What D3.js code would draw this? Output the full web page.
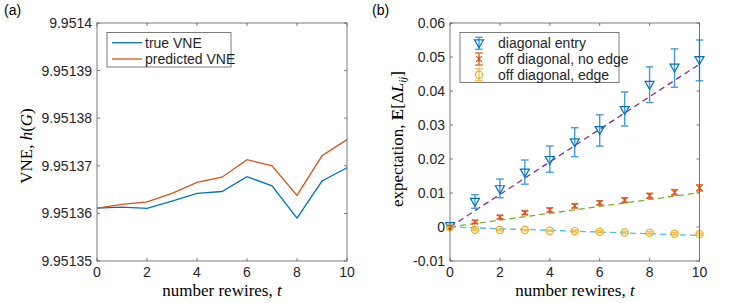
<!DOCTYPE html>
<html>
<head>
<meta charset="utf-8">
<script src="https://cdn.jsdelivr.net/npm/d3@7"></script>
<style>
  body { margin: 0; background: #fff; }
  svg text { font-family: "Liberation Sans", Arial, sans-serif; }
  .serif { font-family: "Liberation Serif", "DejaVu Serif", serif; }
</style>
</head>
<body>
<div id="chart"></div>
<script>
// ---- data ----
const steps = [0, 1, 2, 3, 4, 5, 6, 7, 8, 9, 10];

// panel (a): offsets above 9.95136, in units of 1e-5
const vneBase = 9.95136;
const trueVNE = [0.11, 0.13, 0.105, 0.26, 0.42, 0.46, 0.77, 0.58, -0.10, 0.68, 0.96];
const predVNE = [0.11, 0.19, 0.24, 0.42, 0.65, 0.76, 1.13, 1.00, 0.38, 1.21, 1.55];
const aTicks = [9.95135, 9.95136, 9.95137, 9.95138, 9.95139, 9.9514];

// panel (b)
const diagMean = [0.0003, 0.0074, 0.0111, 0.0160, 0.0197, 0.0249, 0.0285, 0.0344, 0.0418, 0.0469, 0.0491];
const diagLow  = [0.0002, 0.0055, 0.0086, 0.0126, 0.0161, 0.0207, 0.0238, 0.0297, 0.0366, 0.0411, 0.0430];
const diagHigh = [0.0004, 0.0095, 0.0141, 0.0197, 0.0238, 0.0292, 0.0330, 0.0397, 0.0471, 0.0524, 0.0550];
const noEdgeMean = [0, 0.0015, 0.0029, 0.0042, 0.0050, 0.0062, 0.0071, 0.0079, 0.0092, 0.0102, 0.0115];
const noEdgeErr  = [0, 0.0004, 0.0005, 0.0005, 0.0006, 0.0006, 0.0006, 0.0007, 0.0007, 0.0008, 0.0009];
const edgeMean = [0, -0.0008, -0.0009, -0.0009, -0.0011, -0.0012, -0.0014, -0.0016, -0.0017, -0.0020, -0.0021];
const edgeErr  = [0, 0.0002, 0.0002, 0.0002, 0.0002, 0.0003, 0.0003, 0.0003, 0.0003, 0.0003, 0.0003];
// fitted lines: [t, value] endpoints
const diagFit   = [[0, 0], [10, 0.0479]];
const noEdgeFit = [[0, 0], [10, 0.0101]];
const edgeFit   = [[0, 0], [10, -0.0025]];
const bTicks = [-0.01, 0, 0.01, 0.02, 0.03, 0.04, 0.05, 0.06];
const xTicks = [0, 2, 4, 6, 8, 10];

const blue = "#0072BD", red = "#D95319", yellow = "#EDB120";
const axisCol = "#5a5a5a";
const fs = 14;

const svg = d3.select("#chart").append("svg")
    .attr("width", 747).attr("height", 303);

function frame(g, x, y, yTicks, fmt) {
    const w = x.range()[1] - x.range()[0];
    const h = y.range()[0] - y.range()[1];
    const x0 = x.range()[0], y0 = y.range()[1];
    // ticks inward on all 4 sides
    xTicks.forEach(t => {
        g.append("line").attr("x1", x(t)).attr("x2", x(t)).attr("y1", y0 + h).attr("y2", y0 + h - 3)
            .attr("stroke", axisCol).attr("stroke-width", 0.8);
        g.append("line").attr("x1", x(t)).attr("x2", x(t)).attr("y1", y0).attr("y2", y0 + 3)
            .attr("stroke", axisCol).attr("stroke-width", 0.8);
        g.append("text").attr("x", x(t)).attr("y", y0 + h + 16)
            .attr("text-anchor", "middle").attr("font-size", fs).attr("fill", "#262626").text(t);
    });
    yTicks.forEach(t => {
        g.append("line").attr("x1", x0).attr("x2", x0 + 3).attr("y1", y(t)).attr("y2", y(t))
            .attr("stroke", axisCol).attr("stroke-width", 0.8);
        g.append("line").attr("x1", x0 + w).attr("x2", x0 + w - 3).attr("y1", y(t)).attr("y2", y(t))
            .attr("stroke", axisCol).attr("stroke-width", 0.8);
        g.append("text").attr("x", x0 - 5).attr("y", y(t) + 5)
            .attr("text-anchor", "end").attr("font-size", fs).attr("fill", "#262626").text(fmt(t));
    });
    g.append("rect").attr("x", x0).attr("y", y0).attr("width", w).attr("height", h)
        .attr("fill", "none").attr("stroke", axisCol).attr("stroke-width", 0.8);
}

// ---------------- panel (a) ----------------
const xa = d3.scaleLinear().domain([0, 10]).range([97, 347]);
const ya = d3.scaleLinear().domain([9.95135, 9.9514]).range([261, 23]);
const ga = svg.append("g");

const lineA = d3.line().x((d, i) => xa(steps[i])).y(d => ya(vneBase + d * 1e-5));
ga.append("path").datum(trueVNE).attr("d", lineA).attr("fill", "none")
    .attr("stroke", blue).attr("stroke-width", 1.3);
ga.append("path").datum(predVNE).attr("d", lineA).attr("fill", "none")
    .attr("stroke", red).attr("stroke-width", 1.3);

frame(ga, xa, ya, aTicks, d => d === 9.9514 ? "9.9514" : d.toFixed(5));

// legend (a)
ga.append("rect").attr("x", 107).attr("y", 32.5).attr("width", 124).attr("height", 34.5)
    .attr("fill", "#fff").attr("stroke", axisCol).attr("stroke-width", 0.8);
[["true VNE", blue], ["predicted VNE", red]].forEach((e, i) => {
    const yy = 42.7 + i * 16.3;
    ga.append("line").attr("x1", 112).attr("x2", 142).attr("y1", yy).attr("y2", yy)
        .attr("stroke", e[1]).attr("stroke-width", 1.3);
    ga.append("text").attr("x", 145).attr("y", yy + 5).attr("font-size", fs)
        .attr("fill", "#262626").text(e[0]);
});

svg.append("text").attr("x", 4).attr("y", 15).attr("font-size", fs).text("(a)");
svg.append("text").attr("class", "serif").attr("x", 222).attr("y", 296)
    .attr("text-anchor", "middle").attr("font-size", 17)
    .html('number rewires, <tspan font-style="italic">t</tspan>');
svg.append("text").attr("class", "serif")
    .attr("transform", "translate(32,146) rotate(-90)")
    .attr("text-anchor", "middle").attr("font-size", 17)
    .html('VNE, <tspan font-style="italic">h</tspan>(<tspan font-style="italic">G</tspan>)');

// ---------------- panel (b) ----------------
const xb = d3.scaleLinear().domain([0, 10]).range([450, 699.5]);
const yb = d3.scaleLinear().domain([-0.01, 0.06]).range([261, 23]);
const gb = svg.append("g");

const fitLine = d3.line().x(d => xb(d[0])).y(d => yb(d[1]));
[[diagFit, "#7E2F8E"], [noEdgeFit, "#77AC30"], [edgeFit, "#4DBEEE"]].forEach(f => {
    gb.append("path").datum(f[0]).attr("d", fitLine).attr("fill", "none")
        .attr("stroke", f[1]).attr("stroke-width", 1.3).attr("stroke-dasharray", "6,4");
});

function errorBars(lo, hi, col, capW) {
    steps.forEach((t, i) => {
        const cx = xb(t);
        gb.append("line").attr("x1", cx).attr("x2", cx).attr("y1", yb(lo[i])).attr("y2", yb(hi[i]))
            .attr("stroke", col).attr("stroke-width", 1.4);
        [lo[i], hi[i]].forEach(v => {
            gb.append("line").attr("x1", cx - capW).attr("x2", cx + capW).attr("y1", yb(v)).attr("y2", yb(v))
                .attr("stroke", col).attr("stroke-width", 1.4);
        });
    });
}

function triDown(g, cx, cy, col) {
    g.append("path").attr("d", `M${cx - 4.5},${cy - 3.5}L${cx + 4.5},${cy - 3.5}L${cx},${cy + 4.5}Z`)
        .attr("fill", "none").attr("stroke", col).attr("stroke-width", 1.2);
}
function star(g, cx, cy, col) {
    const r = 2.8;
    g.append("path").attr("d",
        `M${cx - r},${cy - r}L${cx + r},${cy + r}M${cx - r},${cy + r}L${cx + r},${cy - r}M${cx},${cy - r}L${cx},${cy + r}`)
        .attr("fill", "none").attr("stroke", col).attr("stroke-width", 1.1);
}
function circ(g, cx, cy, col) {
    g.append("circle").attr("cx", cx).attr("cy", cy).attr("r", 3.6)
        .attr("fill", "none").attr("stroke", col).attr("stroke-width", 1.2);
}

// diagonal entry
errorBars(diagLow, diagHigh, "#4a9ad8", 3.8);
steps.forEach((t, i) => triDown(gb, xb(t), yb(diagMean[i]), blue));
// off diagonal, no edge
errorBars(noEdgeMean.map((d, i) => d - noEdgeErr[i]), noEdgeMean.map((d, i) => d + noEdgeErr[i]), "#e2683a", 3.5);
steps.forEach((t, i) => star(gb, xb(t), yb(noEdgeMean[i]), red));
// off diagonal, edge
errorBars(edgeMean.map((d, i) => d - edgeErr[i]), edgeMean.map((d, i) => d + edgeErr[i]), "#f0c050", 3.5);
steps.forEach((t, i) => circ(gb, xb(t), yb(edgeMean[i]), yellow));

frame(gb, xb, yb, bTicks, d => d === 0 ? "0" : d3.format(".2f")(d).replace("−", "-"));

// legend (b)
gb.append("rect").attr("x", 460).attr("y", 32.5).attr("width", 159).attr("height", 50)
    .attr("fill", "#fff").attr("stroke", axisCol).attr("stroke-width", 0.8);
const legB = [
    ["diagonal entry", "#4a9ad8", blue, triDown],
    ["off diagonal, no edge", "#e2683a", red, star],
    ["off diagonal, edge", "#f0c050", yellow, circ]
];
legB.forEach((e, i) => {
    const yy = 43.3 + i * 15.7, cx = 479;
    gb.append("line").attr("x1", cx).attr("x2", cx).attr("y1", yy - 6).attr("y2", yy + 6)
        .attr("stroke", e[1]).attr("stroke-width", 1.4);
    [yy - 6, yy + 6].forEach(v => gb.append("line").attr("x1", cx - 3.8).attr("x2", cx + 3.8)
        .attr("y1", v).attr("y2", v).attr("stroke", e[1]).attr("stroke-width", 1.4));
    e[3](gb, cx, yy, e[2]);
    gb.append("text").attr("x", 498).attr("y", yy + 5).attr("font-size", fs)
        .attr("fill", "#262626").text(e[0]);
});

svg.append("text").attr("x", 372).attr("y", 15).attr("font-size", fs).text("(b)");
svg.append("text").attr("class", "serif").attr("x", 575).attr("y", 296)
    .attr("text-anchor", "middle").attr("font-size", 17)
    .html('number rewires, <tspan font-style="italic">t</tspan>');
svg.append("text").attr("class", "serif")
    .attr("transform", "translate(403,139) rotate(-90)")
    .attr("text-anchor", "middle").attr("font-size", 17)
    .html('expectation, <tspan font-weight="bold">E</tspan>[Δ<tspan font-style="italic">L</tspan><tspan font-style="italic" font-size="11" dy="3">ij</tspan><tspan dy="-3">]</tspan>');
</script>
</body>
</html>
